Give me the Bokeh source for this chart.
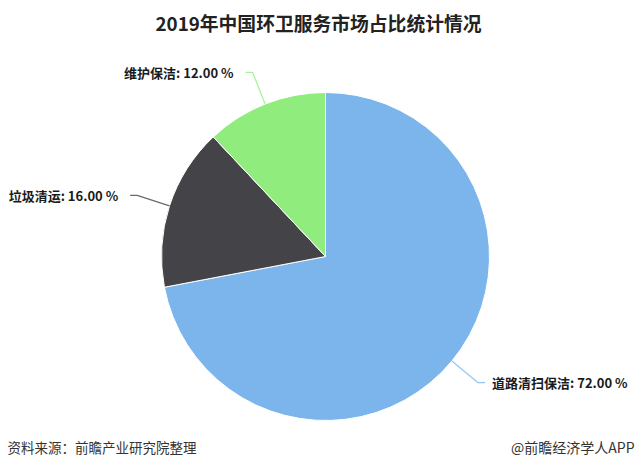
import numpy as np
from bokeh.plotting import figure
from bokeh.models import Range1d
from bokeh.core.properties import value
from bokeh.embed import file_html
from bokeh.resources import INLINE

# ---- data ----
categories = ["道路清扫保洁", "垃圾清运", "维护保洁"]
shares = [72.00, 16.00, 12.00]
colors = ["#7cb5ec", "#434348", "#90ed7d"]
title_text = "2019年中国环卫服务市场占比统计情况"
source_text = "资料来源：前瞻产业研究院整理"
brand_text = "@前瞻经济学人APP"

W, H = 640, 473
FONT = value("Noto Sans CJK SC")

p = figure(width=W, height=H, output_backend="svg", toolbar_location=None,
           x_range=Range1d(0, W), y_range=Range1d(0, H),
           x_axis_location=None, y_axis_location=None, min_border=0,
           background_fill_color="white", border_fill_color="white")
p.outline_line_color = None
p.grid.visible = False

def Y(ypix):
    return H - ypix

cx, cy, r = 325, Y(256), 164

vals = np.array(shares, dtype=float)
frac = vals / vals.sum()
cum = np.concatenate([[0.0], np.cumsum(frac)])
start = np.pi / 2 - 2 * np.pi * cum[:-1]
end = np.pi / 2 - 2 * np.pi * cum[1:]

p.wedge(x=cx, y=cy, radius=r, start_angle=start, end_angle=end,
        direction="clock", fill_color=colors, line_color="white", line_width=1)

# connectors & labels
mid = (start + end) / 2
xs, ys, lx, ly, la, lt = [], [], [], [], [], []
L = 34
for m, c, v in zip(mid, categories, shares):
    ex, ey = cx + r * np.cos(m), cy + r * np.sin(m)
    ox, oy = cx + (r + L) * np.cos(m), cy + (r + L) * np.sin(m)
    side = 1 if np.cos(m) >= 0 else -1
    hx = ox + side * 7
    xs.append([ex, ox, hx])
    ys.append([ey, oy, oy])
    lx.append(hx + (7 if side > 0 else -12))
    ly.append(oy)
    la.append("left" if side > 0 else "right")
    lt.append(f"{c}: {v:.2f} %")

p.multi_line(xs=xs, ys=ys, line_color=colors, line_width=1.2, line_alpha=0.8)
p.text(x=lx, y=ly, text=lt, text_align=la, text_baseline="middle",
       text_font=FONT, text_font_style="bold", text_font_size="13px",
       text_color="#1a1a1a")

# title
p.text(x=[318], y=[Y(22)], text=[title_text], text_align="center",
       text_baseline="middle", text_font=FONT, text_font_style="bold",
       text_font_size="18.8px", text_color="#222222")

# footer
p.text(x=[7], y=[Y(446)], text=[source_text], text_align="left",
       text_baseline="middle", text_font=FONT, text_font_size="13.5px",
       text_color="#333333")
p.text(x=[634], y=[Y(446)], text=[brand_text], text_align="right",
       text_baseline="middle", text_font=FONT, text_font_size="14px",
       text_color="#333333")

open("out.html", "w").write(file_html(p, INLINE))
